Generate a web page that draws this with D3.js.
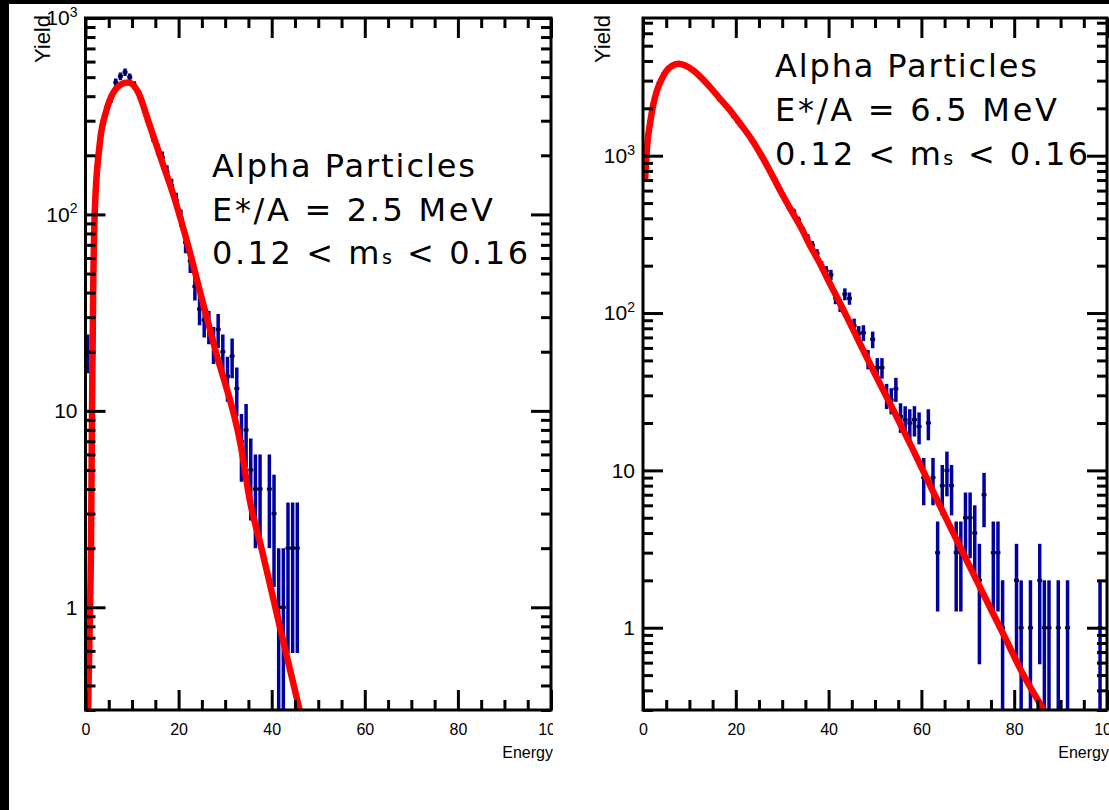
<!DOCTYPE html>
<html><head><meta charset="utf-8">
<script src="https://cdn.jsdelivr.net/npm/d3@7"></script>
<style>body{margin:0;background:#000;} svg{display:block}</style>
</head><body><svg id="c" width="1109" height="810"></svg>
<script>
// ---------- data ----------
// Panel A : E*/A = 2.5 MeV  (histogram bin centres and counts, error = sqrt(N))
const binsA = [0.5,1.5,2.5,3.5,4.5,5.5,6.5,7.5,8.5,9.5,
  10.5,11.5,12.5,13.5,14.5,15.5,16.5,17.5,18.5,19.5,
  20.5,21.5,22.5,23.5,24.5,25.5,26.5,27.5,28.5,29.5,
  30.5,31.5,32.5,33.5,34.5,35.5,36.5,37.5,
  39.5,40.5,41.5,42.5,43.5,44.5,45.5];
const countsA = [20,40,170,280,340,390,470,505,530,500,
  455,410,350,300,250,215,195,165,140,118,
  96,72,58,43,33,29,27,22,26,20,
  15,19,13,7,8,5,4,4,
  4,3,1,1,2,2,2];
const fitEA = [0.56,0.9,1.18,1.4,1.63,2.0,3.07,4.5,6.2,8.4,9.2,11.4,13.4,16.3,19.2,22.0,24.9,28,33.5,35.3,37.8,40,42,46.0];
const fitYA = [0.3,0.8,2,10,37,105,230,339,425,467,470,415,303,190,119,70,38,20,6.4,3.5,2.0,1.2,0.75,0.3];

// Panel B : E*/A = 6.5 MeV
const binsB = [0.5,1.5,2.5,3.5,4.5,5.5,6.5,7.5,8.5,9.5,
  10.5,11.5,12.5,13.5,14.5,15.5,16.5,17.5,18.5,19.5,
  20.5,21.5,22.5,23.5,24.5,25.5,26.5,27.5,28.5,29.5,
  30.5,31.5,32.5,33.5,34.5,35.5,36.5,37.5,38.5,39.5,
  40.5,41.5,42.5,43.5,44.5,45.5,46.5,47.5,48.5,49.5,
  50.5,51.5,52.5,53.5,54.5,55.5,56.5,57.5,58.5,59.5,
  60.5,61.5,62.5,63.5,64.5,65.5,66.5,67.5,68.5,69.5,
  70.5,71.5,72.5,73.5,75.5,76.5,77.5,80.5,81.5,83.5,
  85.5,86.5,87.5,89.5,91.5,98.5];
const countsB = [720,1650,2300,2900,3300,3600,3780,3850,3820,3700,
  3550,3350,3120,2930,2700,2520,2280,2150,2000,1780,
  1640,1530,1390,1250,1120,1010,900,790,700,610,
  530,470,440,390,335,300,270,239,200,185,
  175,125,112,132,124,83,74,75,51,68,
  45,45,30,28,33,22,21,20,21,19,
  9,20,9,3,8,10,8,3,3,5,
  5,4,2,7,3,3,1,2,1,1,
  2,1,1,1,1,1];
const fitEB = [0.43,1.0,1.5,2.2,3,4,5,6.2,7.6,9,10.9,12.6,14.5,16.6,18.8,21,23.1,25.2,27.4,29.5,31.7,34,36,38,40,42.5,46,50,54,58,62,66,70,74,78,82,86.4];
const fitYB = [695,1250,1590,2100,2590,3050,3450,3720,3835,3760,3470,3125,2720,2300,1936,1590,1309,1040,795,605,462,352,269,210,160,115,71,41,24,13.9,7.9,4.5,2.6,1.5,0.87,0.50,0.3];

// ticks and labels
const xMajorTicks = [0,20,40,60,80,100];
const xMinorTicks = [5,10,15,25,30,35,45,50,55,65,70,75,85,90,95];
const yMajorTicks = [1,10,100,1000];
const yTickLabels = [["1",""],["10",""],["10","2"],["10","3"]];
const yMinorTicks = [0.3,0.4,0.5,0.6,0.7,0.8,0.9,2,3,4,5,6,7,8,9,20,30,40,50,60,70,80,90,200,300,400,500,600,700,800,900,2000,3000,4000,5000,6000,7000];
const xTitle = "Energy", yTitle = "Yield";
const textA = ["Alpha Particles","E*/A = 2.5 MeV",["0.12 < m","s"," < 0.16"]];
const textB = ["Alpha Particles","E*/A = 6.5 MeV",["0.12 < m","s"," < 0.16"]];

// ---------- drawing ----------
const W=1109,H=810;
const svg=d3.select("#c");
svg.append("rect").attr("width",W).attr("height",H).attr("fill","#000");
svg.append("rect").attr("x",9).attr("y",4).attr("width",W-9).attr("height",H-4).attr("fill","#fff");
const defs = svg.append("defs");

const panels = [
  {id:"A", cx0:9, cx1:553, x0:85.5, x1:551, yMax:1000, bins:binsA, counts:countsA, fitE:fitEA, fitY:fitYA,
   text:textA, tx:212, tb:[177,221,264], tw:[263,281,316], yieldX:50},
  {id:"B", cx0:553, cx1:1109, x0:643, x1:1107, yMax:7500, bins:binsB, counts:countsB, fitE:fitEB, fitY:fitYB,
   text:textB, tx:775, tb:[77,121,165], tw:[262,282,313], yieldX:610}
];
const yTop=18, yBot=710;
const sansAx = "'Liberation Sans', Arial, Helvetica, sans-serif";

panels.forEach(p=>{
  defs.append("clipPath").attr("id","pc"+p.id).append("rect")
    .attr("x",p.cx0).attr("y",0).attr("width",p.cx1-p.cx0).attr("height",H);
  defs.append("clipPath").attr("id","plot"+p.id).append("rect")
    .attr("x",p.x0).attr("y",yTop).attr("width",p.x1-p.x0).attr("height",yBot-yTop);
  const g = svg.append("g").attr("clip-path",`url(#pc${p.id})`);
  const x = d3.scaleLinear().domain([0,100]).range([p.x0,p.x1]);
  const y = d3.scaleLog().domain([0.3,p.yMax]).range([yBot,yTop]);

  const plot = g.append("g").attr("clip-path",`url(#plot${p.id})`);
  const pts = p.bins.map((e,i)=>({e, c:p.counts[i]}));
  // error bars
  plot.append("g").selectAll("line").data(pts).join("line")
    .attr("x1",d=>x(d.e)).attr("x2",d=>x(d.e))
    .attr("y1",d=>y(d.c+Math.sqrt(d.c)))
    .attr("y2",d=>{const lo=d.c-Math.sqrt(d.c); return lo>0.3? y(lo): yBot+5;})
    .attr("stroke","#0000a0").attr("stroke-width",3.5);
  // markers
  plot.append("g").selectAll("rect").data(pts).join("rect")
    .attr("x",d=>x(d.e)-2.5).attr("y",d=>y(d.c)-1.5).attr("width",5).attr("height",3)
    .attr("fill","#000040");
  // fit curve
  const fit = p.fitE.map((e,i)=>[e,p.fitY[i]]);
  plot.append("path").datum(fit)
    .attr("d",d3.line().x(d=>x(d[0])).y(d=>y(d[1])).curve(d3.curveMonotoneX))
    .attr("fill","none").attr("stroke","#ff0000").attr("stroke-width",6.5).attr("stroke-linejoin","round");

  // axes
  const styleAx = sel=>{sel.select(".domain").remove(); sel.selectAll(".tick line").attr("stroke","#000").attr("stroke-width",3);};
  g.append("g").attr("transform",`translate(0,${yBot})`)
    .call(d3.axisBottom(x).tickValues(xMajorTicks).tickSize(-20).tickPadding(14).tickFormat(d3.format("d")))
    .call(styleAx).call(s=>s.selectAll("text").attr("font-size",16).attr("font-family",sansAx).attr("fill","#000"));
  g.append("g").attr("transform",`translate(0,${yBot})`)
    .call(d3.axisBottom(x).tickValues(xMinorTicks).tickSize(-10).tickFormat("")).call(styleAx);
  g.append("g").attr("transform",`translate(0,${yTop})`)
    .call(d3.axisTop(x).tickValues(xMajorTicks).tickSize(-20).tickFormat("")).call(styleAx);
  g.append("g").attr("transform",`translate(0,${yTop})`)
    .call(d3.axisTop(x).tickValues(xMinorTicks).tickSize(-10).tickFormat("")).call(styleAx);

  const yMaj = yMajorTicks.filter(v=>v<=p.yMax*1.0001);
  const yMin = yMinorTicks.filter(v=>v<=p.yMax);
  const ly = g.append("g").attr("transform",`translate(${p.x0},0)`)
    .call(d3.axisLeft(y).tickValues(yMaj).tickSize(-20).tickPadding(8).tickFormat(""))
    .call(styleAx);
  ly.selectAll(".tick text").each(function(d){
    const lab = yTickLabels[yMajorTicks.indexOf(d)];
    const t = d3.select(this).attr("font-size",21).attr("font-family",sansAx).attr("fill","#000");
    t.append("tspan").text(lab[0]);
    if(lab[1]) t.append("tspan").attr("font-size",14).attr("dy","-0.6em").text(lab[1]);
  });
  g.append("g").attr("transform",`translate(${p.x0},0)`)
    .call(d3.axisLeft(y).tickValues(yMin).tickSize(-10).tickFormat("")).call(styleAx);
  g.append("g").attr("transform",`translate(${p.x1},0)`)
    .call(d3.axisRight(y).tickValues(yMaj).tickSize(-20).tickFormat("")).call(styleAx);
  g.append("g").attr("transform",`translate(${p.x1},0)`)
    .call(d3.axisRight(y).tickValues(yMin).tickSize(-10).tickFormat("")).call(styleAx);

  // frame
  g.append("rect").attr("x",p.x0).attr("y",yTop).attr("width",p.x1-p.x0).attr("height",yBot-yTop)
    .attr("fill","none").attr("stroke","#000").attr("stroke-width",3);

  // titles
  g.append("text").attr("x",p.x1+2).attr("y",758).attr("text-anchor","end")
    .attr("font-size",16).attr("font-family",sansAx).text(xTitle);
  g.append("text").attr("transform",`translate(${p.yieldX},15) rotate(-90)`).attr("text-anchor","end")
    .attr("font-size",22).attr("font-family",sansAx).text(yTitle);

  // annotation
  p.text.forEach((line,i)=>{
    const t = g.append("text").attr("x",p.tx).attr("y",p.tb[i])
      .attr("font-family","'DejaVu Sans', Verdana, sans-serif").attr("font-size",32).attr("fill","#000")
      .attr("textLength",p.tw[i]).attr("lengthAdjust","spacing");
    if(Array.isArray(line)){
      t.append("tspan").text(line[0]);
      t.append("tspan").attr("font-size",19).text(line[1]);
      t.append("tspan").text(line[2]);
    } else t.text(line);
  });
});
</script></body></html>
